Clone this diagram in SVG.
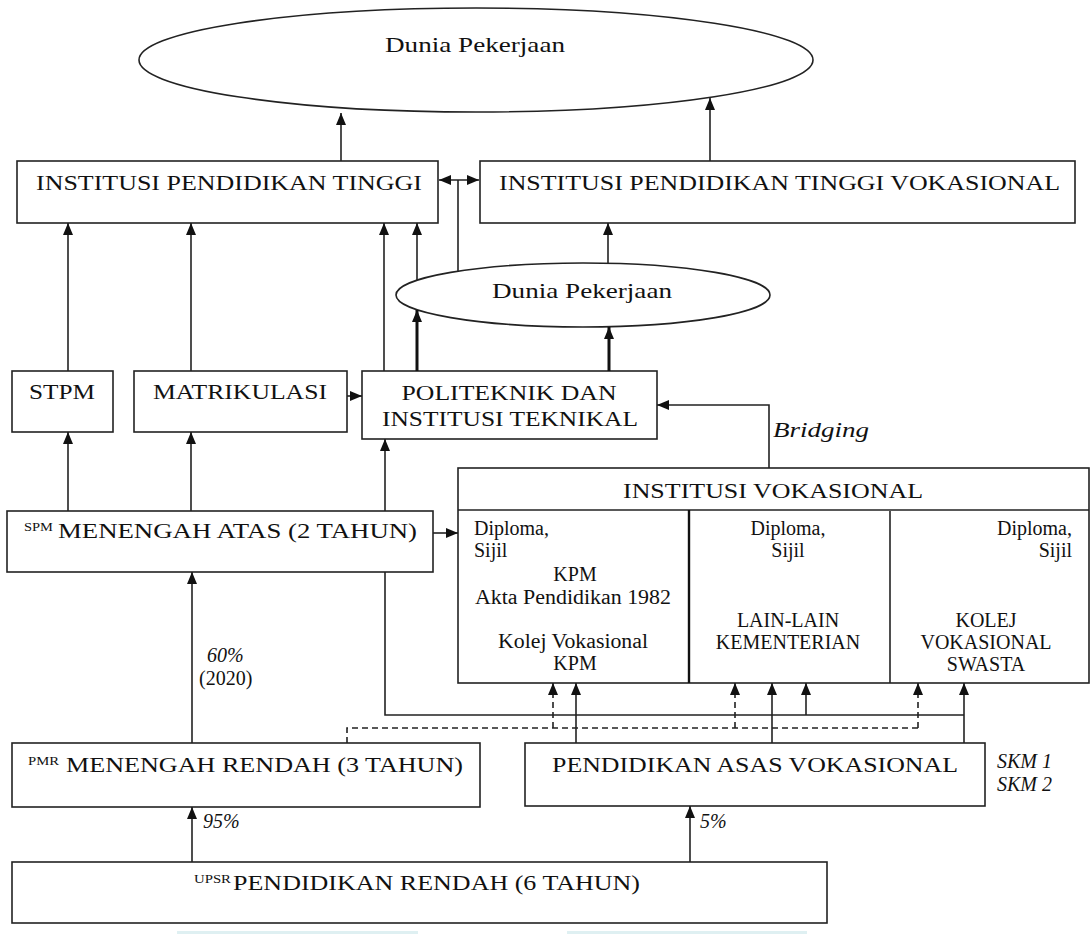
<svg xmlns="http://www.w3.org/2000/svg" width="1091" height="934" viewBox="0 0 1091 934">
<style>
.box{fill:#fff;stroke:#222;stroke-width:1.6}
.t{font-family:"Liberation Serif","Times New Roman",serif;font-size:22px;fill:#111}
.s{font-family:"Liberation Serif","Times New Roman",serif;font-size:20px;fill:#111}
.i{font-family:"Liberation Serif","Times New Roman",serif;font-size:20px;font-style:italic;fill:#111}
.sup{font-family:"Liberation Serif","Times New Roman",serif;font-size:13px;fill:#111}
.c{stroke:#222;stroke-width:1.6;fill:none}
.k{stroke:#111;stroke-width:3;fill:none}
.d{stroke:#222;stroke-width:1.6;fill:none;stroke-dasharray:6 4}
.m{text-anchor:middle}
.e{text-anchor:end}
</style>
<defs>
<marker id="ah" markerUnits="userSpaceOnUse" markerWidth="13" markerHeight="11" refX="12" refY="5.5" orient="auto-start-reverse">
<path d="M0,0.5 L12,5.5 L0,10.5 z" fill="#111"/>
</marker>
</defs>
<rect x="0" y="0" width="1091" height="934" fill="#fff"/>

<g id="dunia-pekerjaan-top">
<ellipse cx="476" cy="60" rx="337" ry="52" class="box"/>
<text x="475" y="52" class="t m" textLength="180" lengthAdjust="spacingAndGlyphs">Dunia Pekerjaan</text>
</g>

<g id="ipt">
<rect x="17" y="161" width="421" height="62" class="box"/>
<text x="36" y="190" class="t" textLength="386" lengthAdjust="spacingAndGlyphs">INSTITUSI  PENDIDIKAN  TINGGI</text>
</g>

<g id="iptv">
<rect x="480" y="161" width="595" height="62" class="box"/>
<text x="499" y="190" class="t" textLength="561" lengthAdjust="spacingAndGlyphs">INSTITUSI  PENDIDIKAN  TINGGI VOKASIONAL</text>
</g>

<g id="dunia-pekerjaan-mid">
<ellipse cx="583" cy="295" rx="187" ry="32" class="box"/>
<text x="582" y="298" class="t m" textLength="180" lengthAdjust="spacingAndGlyphs">Dunia Pekerjaan</text>
</g>

<g id="stpm">
<rect x="12" y="371" width="101" height="61" class="box"/>
<text x="62" y="399" class="t m" textLength="66" lengthAdjust="spacingAndGlyphs">STPM</text>
</g>

<g id="matrikulasi">
<rect x="134" y="371" width="213" height="61" class="box"/>
<text x="240" y="399" class="t m" textLength="174" lengthAdjust="spacingAndGlyphs">MATRIKULASI</text>
</g>

<g id="politeknik">
<rect x="362" y="371" width="295" height="68" class="box"/>
<text x="509" y="400" class="t m" textLength="215" lengthAdjust="spacingAndGlyphs">POLITEKNIK  DAN</text>
<text x="510" y="426" class="t m" textLength="256" lengthAdjust="spacingAndGlyphs">INSTITUSI  TEKNIKAL</text>
</g>

<g id="menengah-atas">
<rect x="7" y="511" width="426" height="61" class="box"/>
<text x="24" y="531" class="sup" textLength="29" lengthAdjust="spacingAndGlyphs">SPM</text>
<text x="58" y="538" class="t" textLength="359" lengthAdjust="spacingAndGlyphs">MENENGAH ATAS (2 TAHUN)</text>
</g>

<g id="institusi-vokasional">
<rect x="458" y="468" width="631" height="215" class="box"/>
<line x1="458" y1="510" x2="1089" y2="510" class="c"/>
<line x1="689" y1="510" x2="689" y2="683" stroke="#111" stroke-width="2.4"/>
<line x1="890" y1="511" x2="890" y2="683" class="c"/>
<text x="773" y="498" class="t m" textLength="300" lengthAdjust="spacingAndGlyphs">INSTITUSI  VOKASIONAL</text>
<text x="474" y="535" class="s">Diploma,</text>
<text x="474" y="557" class="s">Sijil</text>
<text x="575" y="581" class="s m">KPM</text>
<text x="573" y="604" class="s m" textLength="196" lengthAdjust="spacingAndGlyphs">Akta Pendidikan 1982</text>
<text x="573" y="648" class="s m" textLength="150" lengthAdjust="spacingAndGlyphs">Kolej Vokasional</text>
<text x="575" y="670" class="s m">KPM</text>
<text x="788" y="535" class="s m">Diploma,</text>
<text x="788" y="557" class="s m">Sijil</text>
<text x="788" y="627" class="s m">LAIN-LAIN</text>
<text x="788" y="649" class="s m">KEMENTERIAN</text>
<text x="1072" y="535" class="s e">Diploma,</text>
<text x="1072" y="557" class="s e">Sijil</text>
<text x="986" y="627" class="s m">KOLEJ</text>
<text x="986" y="649" class="s m">VOKASIONAL</text>
<text x="986" y="671" class="s m">SWASTA</text>
</g>

<g id="menengah-rendah">
<rect x="12" y="743" width="468" height="64" class="box"/>
<text x="28" y="765" class="sup" textLength="31" lengthAdjust="spacingAndGlyphs">PMR</text>
<text x="66" y="772" class="t" textLength="397" lengthAdjust="spacingAndGlyphs">MENENGAH RENDAH (3 TAHUN)</text>
</g>

<g id="pendidikan-asas-vokasional">
<rect x="525" y="743" width="460" height="63" class="box"/>
<text x="552" y="772" class="t" textLength="406" lengthAdjust="spacingAndGlyphs">PENDIDIKAN  ASAS VOKASIONAL</text>
<text x="997" y="768" class="i">SKM 1</text>
<text x="997" y="791" class="i">SKM 2</text>
</g>

<g id="pendidikan-rendah">
<rect x="12" y="862" width="815" height="61" class="box"/>
<text x="194" y="883" class="sup" textLength="37" lengthAdjust="spacingAndGlyphs">UPSR</text>
<text x="233" y="890" class="t" textLength="407" lengthAdjust="spacingAndGlyphs">PENDIDIKAN  RENDAH (6 TAHUN)</text>
</g>

<g id="connectors">
<line x1="341" y1="161" x2="341" y2="113" class="c" marker-end="url(#ah)"/>
<line x1="710" y1="161" x2="710" y2="98" class="c" marker-end="url(#ah)"/>
<line x1="439" y1="180" x2="479" y2="180" class="c" marker-start="url(#ah)" marker-end="url(#ah)"/>
<line x1="458" y1="271" x2="458" y2="180" class="c"/>
<line x1="608" y1="263" x2="608" y2="223" class="c" marker-end="url(#ah)"/>
<line x1="384" y1="371" x2="384" y2="223" class="c" marker-end="url(#ah)"/>
<line x1="417" y1="280" x2="417" y2="223" class="c" marker-end="url(#ah)"/>
<line x1="417" y1="371" x2="417" y2="310" class="k" marker-end="url(#ah)"/>
<line x1="609" y1="371" x2="609" y2="327" class="k" marker-end="url(#ah)"/>
<line x1="68" y1="371" x2="68" y2="223" class="c" marker-end="url(#ah)"/>
<line x1="191" y1="371" x2="191" y2="223" class="c" marker-end="url(#ah)"/>
<line x1="347" y1="396" x2="362" y2="396" class="c" marker-end="url(#ah)"/>
<line x1="68" y1="511" x2="68" y2="432" class="c" marker-end="url(#ah)"/>
<line x1="191" y1="511" x2="191" y2="432" class="c" marker-end="url(#ah)"/>
<line x1="385" y1="511" x2="385" y2="439" class="c" marker-end="url(#ah)"/>
<line x1="433" y1="533" x2="458" y2="533" class="c" marker-end="url(#ah)"/>
<polyline points="769,468 769,405 657,405" class="c" marker-end="url(#ah)"/>
<text x="773" y="437" class="i" textLength="96" lengthAdjust="spacingAndGlyphs">Bridging</text>
<polyline points="385,572 385,715 964,715" class="c"/>
<line x1="192" y1="743" x2="192" y2="572" class="c" marker-end="url(#ah)"/>
<text x="207" y="662" class="i">60%</text>
<text x="199" y="685" class="s">(2020)</text>
<polyline points="347,743 347,728 918,728" class="d"/>
<line x1="553" y1="728" x2="553" y2="683" class="d" marker-end="url(#ah)"/>
<line x1="735" y1="728" x2="735" y2="683" class="d" marker-end="url(#ah)"/>
<line x1="918" y1="728" x2="918" y2="683" class="d" marker-end="url(#ah)"/>
<line x1="576" y1="743" x2="576" y2="683" class="c" marker-end="url(#ah)"/>
<line x1="772" y1="743" x2="772" y2="683" class="c" marker-end="url(#ah)"/>
<line x1="964" y1="743" x2="964" y2="683" class="c" marker-end="url(#ah)"/>
<line x1="806" y1="715" x2="806" y2="683" class="c" marker-end="url(#ah)"/>
<line x1="192" y1="862" x2="192" y2="807" class="c" marker-end="url(#ah)"/>
<text x="203" y="828" class="i">95%</text>
<line x1="690" y1="862" x2="690" y2="806" class="c" marker-end="url(#ah)"/>
<text x="700" y="828" class="i">5%</text>
</g>
<rect x="177" y="931" width="241" height="3" fill="#dff0f2"/>
<rect x="567" y="931" width="240" height="3" fill="#dff0f2"/>
</svg>
